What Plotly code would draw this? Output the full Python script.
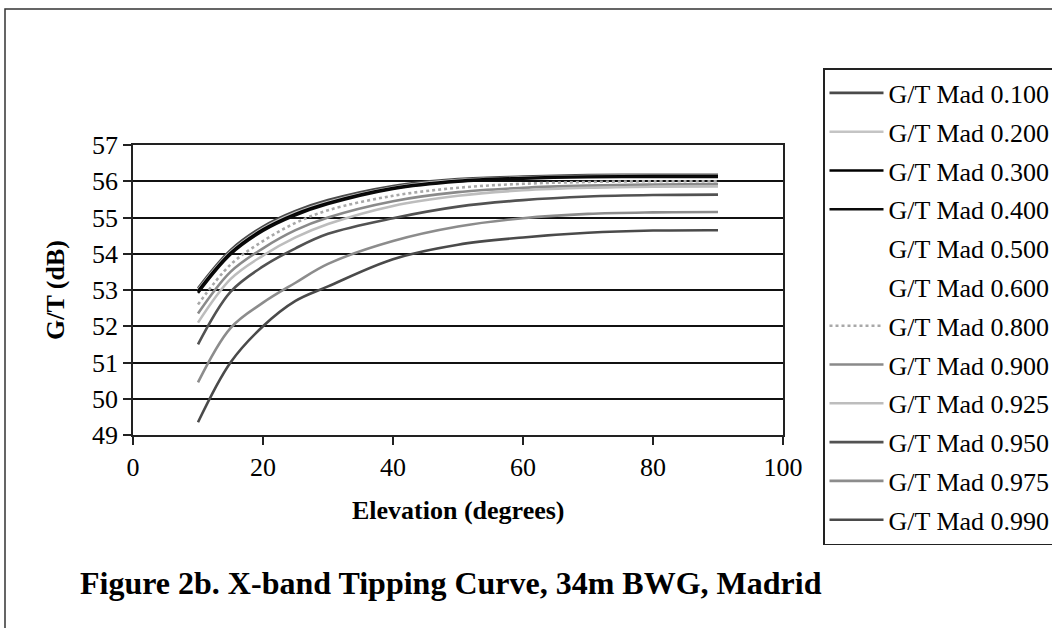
import plotly.graph_objects as go

elevation = [10, 15, 20, 25, 30, 40, 50, 60, 70, 80, 90]

series_names = ["G/T Mad 0.100", "G/T Mad 0.200", "G/T Mad 0.300", "G/T Mad 0.400",
                "G/T Mad 0.500", "G/T Mad 0.600", "G/T Mad 0.800", "G/T Mad 0.900",
                "G/T Mad 0.925", "G/T Mad 0.950", "G/T Mad 0.975", "G/T Mad 0.990"]

gt_100 = [53.05, 54.10, 54.75, 55.18, 55.48, 55.87, 56.06, 56.13, 56.17, 56.18, 56.18]
gt_200 = [53.00, 54.05, 54.70, 55.13, 55.43, 55.83, 56.03, 56.10, 56.14, 56.15, 56.15]
gt_300 = [52.97, 54.02, 54.67, 55.10, 55.40, 55.81, 56.01, 56.09, 56.13, 56.14, 56.14]
gt_400 = [52.92, 53.98, 54.63, 55.06, 55.37, 55.79, 55.99, 56.07, 56.11, 56.12, 56.12]
gt_500 = [52.80, 53.88, 54.52, 54.98, 55.30, 55.72, 55.93, 56.02, 56.06, 56.08, 56.08]
gt_600 = [52.70, 53.80, 54.44, 54.92, 55.25, 55.66, 55.88, 55.98, 56.02, 56.04, 56.04]
gt_800 = [52.60, 53.70, 54.35, 54.85, 55.20, 55.60, 55.82, 55.93, 55.98, 56.00, 56.00]
gt_900 = [52.35, 53.50, 54.15, 54.65, 55.00, 55.45, 55.70, 55.82, 55.88, 55.91, 55.92]
gt_925 = [52.10, 53.30, 53.95, 54.45, 54.82, 55.32, 55.60, 55.75, 55.82, 55.85, 55.86]
gt_950 = [51.50, 52.95, 53.65, 54.15, 54.55, 54.98, 55.30, 55.48, 55.58, 55.62, 55.63]
gt_975 = [50.45, 51.95, 52.65, 53.20, 53.72, 54.35, 54.75, 54.98, 55.10, 55.14, 55.15]
gt_990 = [49.35, 51.00, 52.00, 52.70, 53.10, 53.85, 54.25, 54.45, 54.58, 54.64, 54.65]

series_values = [gt_100, gt_200, gt_300, gt_400, gt_500, gt_600,
                 gt_800, gt_900, gt_925, gt_950, gt_975, gt_990]

line_colors = ["#4a4a4a", "#c4c4c4", "#000000", "#0a0a0a", "rgba(0,0,0,0)", "rgba(0,0,0,0)",
               "#a8a8a8", "#8a8a8a", "#bdbdbd", "#525252", "#8c8c8c", "#4a4a4a"]
line_dashes = ["solid", "solid", "solid", "solid", "solid", "solid",
               "dot", "solid", "solid", "solid", "solid", "solid"]

y_ticks = [49, 50, 51, 52, 53, 54, 55, 56, 57]
x_ticks = [0, 20, 40, 60, 80, 100]

W, H = 1052, 628
L, R, T, B = 133, 783, 145, 435

def px(x):
    return (x - L) / (R - L)

def py(y):
    return (B - y) / (B - T)

fig = go.Figure()
for i, (name, vals) in enumerate(zip(series_names, series_values)):
    fig.add_trace(go.Scatter(
        x=elevation, y=vals, name=name, mode="lines",
        line=dict(color=line_colors[i], width=2.6, dash=line_dashes[i], shape="spline", smoothing=1.0),
        legendgroup="g%d" % i,
    ))

serif = "Liberation Serif, Times New Roman, serif"

fig.update_layout(
    width=W, height=H,
    margin=dict(l=L, r=W - R, t=T, b=H - B, autoexpand=False),
    paper_bgcolor="white", plot_bgcolor="white",
    font=dict(family=serif, size=26, color="black"),
    showlegend=True,
    legend=dict(
        x=px(823), y=py(68), xanchor="left", yanchor="top",
        bordercolor="#222", borderwidth=1.5, bgcolor="white",
        font=dict(family=serif, size=26, color="black"),
        tracegroupgap=2, traceorder="grouped", itemwidth=54,
        maxheight=620,
    ),
    xaxis=dict(
        range=[0, 100], tickvals=x_ticks, ticks="outside", ticklen=8, tickwidth=1.5,
        tickcolor="#222", showline=True, linecolor="#222", linewidth=1.5, mirror=True,
        showgrid=False, zeroline=False, tickfont=dict(family=serif, size=26),
    ),
    yaxis=dict(
        range=[49, 57], tickvals=y_ticks, ticks="outside", ticklen=8, tickwidth=1.5,
        tickcolor="#222", showline=True, linecolor="#222", linewidth=1.5, mirror=True,
        showgrid=True, gridcolor="#111", gridwidth=1.5, zeroline=False,
        tickfont=dict(family=serif, size=26),
    ),
    annotations=[
        dict(text="<b>Elevation (degrees)</b>", xref="paper", yref="paper",
             x=px(458), y=py(510), xanchor="center", yanchor="middle", showarrow=False,
             font=dict(family=serif, size=26)),
        dict(text="<b>G/T (dB)</b>", xref="paper", yref="paper",
             x=px(55), y=py(290), xanchor="center", yanchor="middle", showarrow=False,
             textangle=-90, font=dict(family=serif, size=26)),
        dict(text="<b>Figure 2b. X-band Tipping Curve, 34m BWG, Madrid</b>", xref="paper", yref="paper",
             x=px(78), y=py(583), xanchor="left", yanchor="middle", showarrow=False,
             font=dict(family=serif, size=32)),
    ],
    shapes=[
        dict(type="rect", xref="paper", yref="paper",
             x0=px(5), y0=py(660), x1=px(1080), y1=py(9),
             line=dict(color="#333", width=1.5), fillcolor="rgba(0,0,0,0)", layer="below"),
    ],
)

fig.write_html("out.html")
